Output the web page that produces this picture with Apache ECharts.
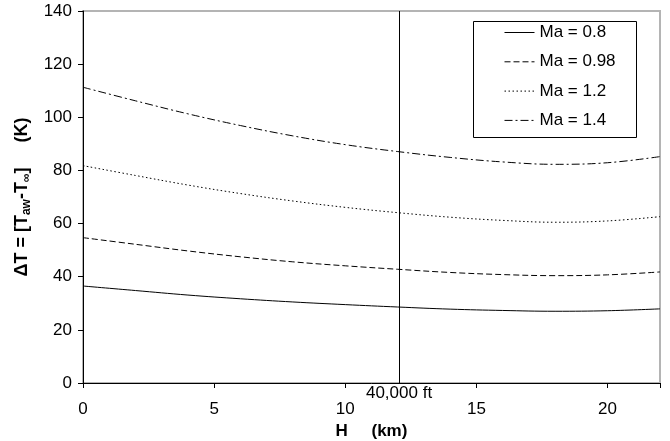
<!DOCTYPE html>
<html>
<head>
<meta charset="utf-8">
<script src="https://cdn.jsdelivr.net/npm/echarts@6/dist/echarts.min.js"></script>
<style>
html,body{margin:0;padding:0;background:#fff;}
#c{width:670px;height:441px;}
</style>
</head>
<body>
<div id="c"></div>
<script>
// Altitude H (km)
var heights = [0, 2, 4, 6, 8, 10, 12, 14, 16, 18, 20, 22];
// Delta T (K) for each Mach number
var ma08  = [36.5, 34.8, 33.1, 31.7, 30.5, 29.5, 28.6, 27.8, 27.3, 27.0, 27.2, 27.9];
var ma098 = [54.7, 52.2, 49.7, 47.5, 45.6, 44.1, 42.8, 41.6, 40.8, 40.4, 40.7, 41.8];
var ma12  = [81.8, 78.1, 74.5, 71.3, 68.5, 66.1, 64.1, 62.4, 61.2, 60.5, 61.0, 62.6];
var ma14  = [111.3, 106.2, 101.3, 96.9, 93.0, 89.7, 87.1, 84.9, 83.2, 82.3, 82.9, 85.2];
var seriesNames = ['Ma = 0.8', 'Ma = 0.98', 'Ma = 1.2', 'Ma = 1.4'];
var xTicks = [0, 5, 10, 15, 20];
var yTicks = [0, 20, 40, 60, 80, 100, 120, 140];
var refLineH = 12.05;          // 40,000 ft
var refLineLabel = '40,000 ft';

var FONT = "'Liberation Sans', Arial, sans-serif";

function pairs(xs, ys) { return xs.map(function (x, i) { return [x, ys[i]]; }); }

var dashTypes = ['solid', [6, 3], [1.5, 2.5], [8, 3, 2, 3]];
var datasets = [ma08, ma098, ma12, ma14];

var series = datasets.map(function (d, i) {
  var s = {
    name: seriesNames[i],
    type: 'line',
    data: pairs(heights, d),
    smooth: 0.4,
    symbol: 'none',
    lineStyle: { color: '#000', width: 1, type: dashTypes[i] },
    itemStyle: { color: '#000' },
    z: 3
  };
  if (i === 0) {
    s.markLine = {
      silent: true,
      symbol: 'none',
      lineStyle: { color: '#000', width: 1, type: 'solid' },
      label: {
        show: true, position: 'start', distance: 2,
        formatter: refLineLabel, color: '#000', fontSize: 17, fontFamily: FONT
      },
      data: [{ xAxis: refLineH }]
    };
  }
  return s;
});

var chart = echarts.init(document.getElementById('c'), null, { renderer: 'canvas' });
chart.setOption({
  animation: false,
  backgroundColor: '#fff',
  textStyle: { fontFamily: FONT, color: '#000' },
  grid: {
    left: 83, top: 11, right: 10, bottom: 58,
    containLabel: false,
    outerBoundsMode: 'none',
    show: true, borderColor: '#b4b4b4', borderWidth: 2, backgroundColor: 'transparent'
  },
  legend: {
    orient: 'vertical',
    left: 499, top: 19,
    itemWidth: 30, itemHeight: 14, itemGap: 12.3,
    data: seriesNames,
    itemStyle: { color: 'transparent', borderWidth: 0, opacity: 0 },
    lineStyle: { width: 1 },
    textStyle: { fontSize: 17, color: '#000', fontFamily: FONT },
    z: 10
  },
  graphic: [{
    type: 'rect',
    shape: { x: 473.5, y: 21.5, width: 163, height: 116 },
    style: { fill: '#fff', stroke: '#000', lineWidth: 1 },
    z: 5
  }],
  xAxis: {
    type: 'value', min: 0, max: 22, interval: 5,
    axisLine: { show: true, lineStyle: { color: '#000', width: 1 } },
    axisTick: { show: true, inside: false, length: 5, lineStyle: { color: '#000' } },
    axisLabel: {
      fontSize: 17, color: '#000', margin: 18, fontFamily: FONT,
      formatter: function (v) { return xTicks.indexOf(v) >= 0 ? String(v) : ''; }
    },
    splitLine: { show: false },
    name: '{b|H     (km)}',
    nameLocation: 'middle', nameGap: 30,
    nameTextStyle: { rich: { b: { fontSize: 17, fontWeight: 'bold', color: '#000', fontFamily: FONT } } }
  },
  yAxis: {
    type: 'value', min: 0, max: 140, interval: 20,
    axisLine: { show: true, lineStyle: { color: '#000', width: 1 } },
    axisTick: { show: true, inside: false, length: 5, lineStyle: { color: '#000' } },
    axisLabel: {
      fontSize: 17, color: '#000', margin: 11, fontFamily: FONT,
      formatter: function (v) { return yTicks.indexOf(v) >= 0 ? String(v) : ''; }
    },
    splitLine: { show: false },
    name: '{b|ΔT = [T}{s|aw}{b|-T}{s|∞}{b|]     (K)}',
    nameLocation: 'middle', nameGap: 42, nameRotate: 90,
    nameTextStyle: {
      rich: {
        b: { fontSize: 18, fontWeight: 'bold', color: '#000', fontFamily: FONT, lineHeight: 22, verticalAlign: 'middle' },
        s: { fontSize: 12, fontWeight: 'bold', color: '#000', fontFamily: FONT, lineHeight: 22, verticalAlign: 'bottom' }
      }
    }
  },
  series: series
});
</script>
</body>
</html>
